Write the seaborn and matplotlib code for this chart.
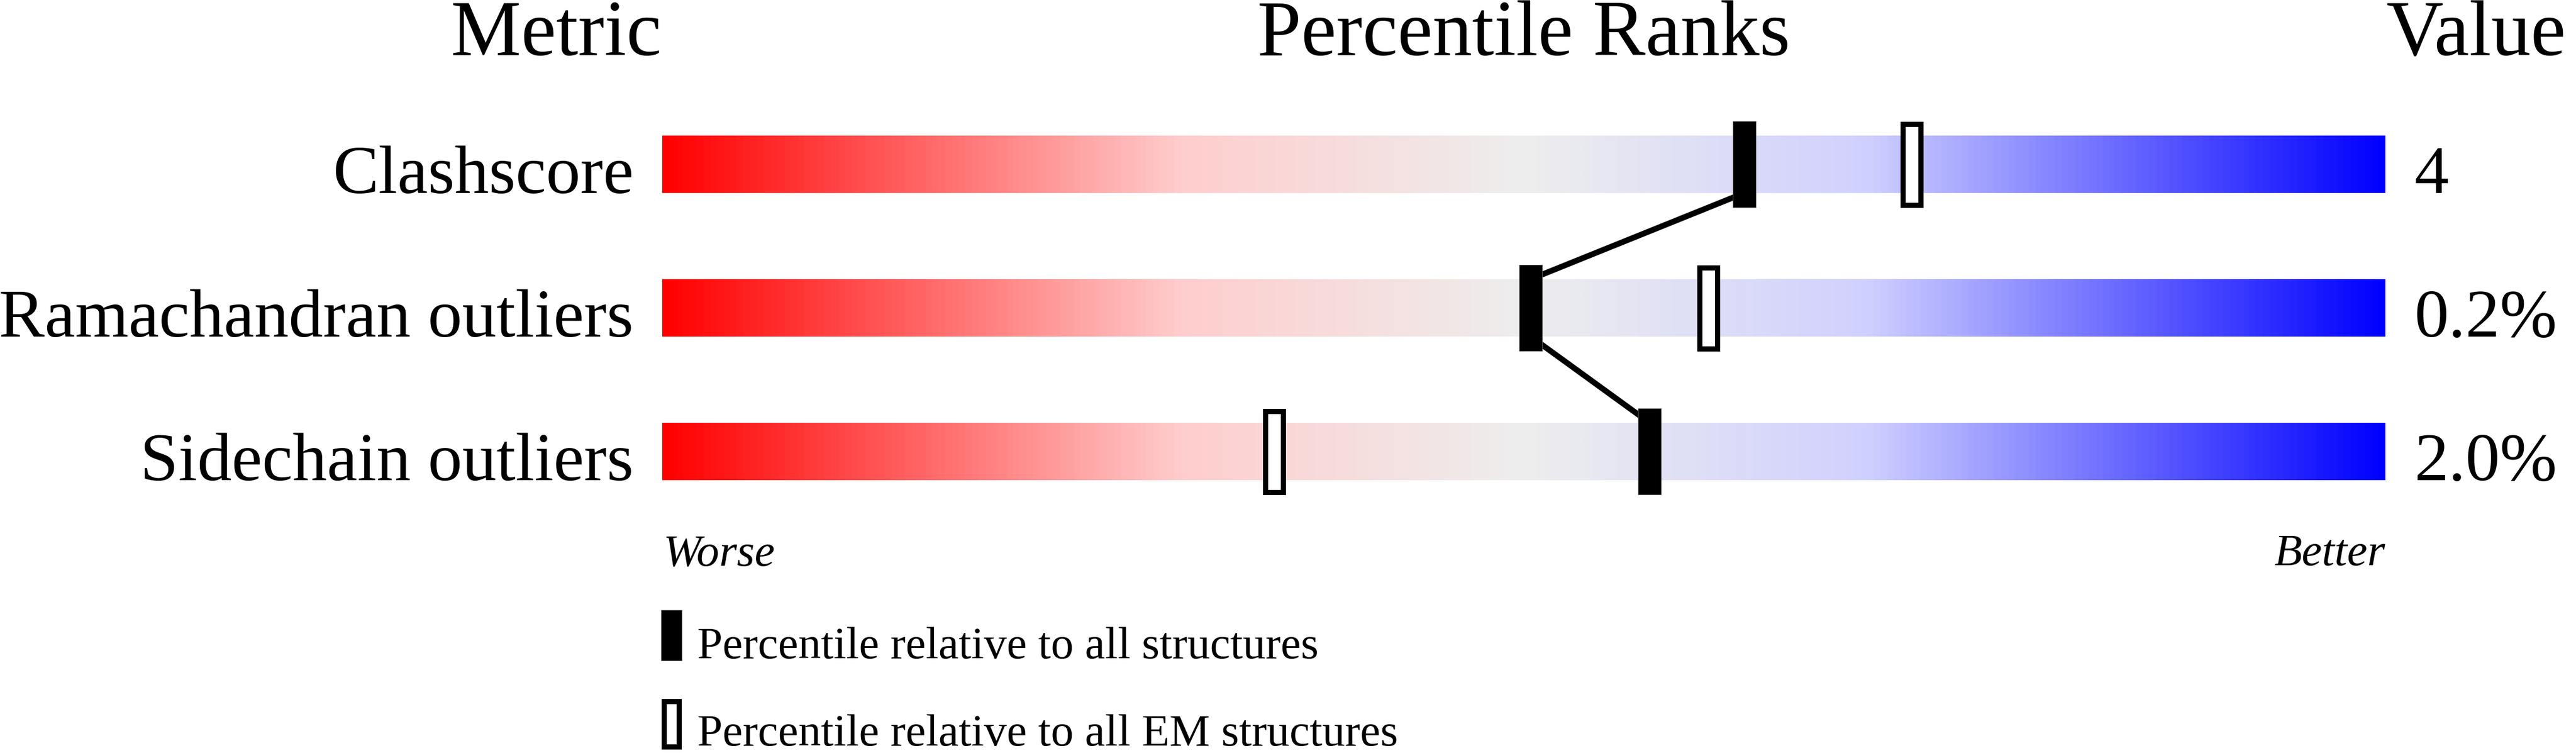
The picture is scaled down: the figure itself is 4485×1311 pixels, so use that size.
import numpy as np
import pandas as pd
import matplotlib
matplotlib.use("Agg")
import matplotlib.pyplot as plt
from matplotlib.colors import LinearSegmentedColormap
from matplotlib.patches import Rectangle
import seaborn as sns

# ---------------- data ----------------
metrics = ["Clashscore", "Ramachandran outliers", "Sidechain outliers"]
values = ["4", "0.2%", "2.0%"]
pct_all = [62.8, 50.4, 57.3]        # percentile relative to all structures
pct_em = [72.5, 60.7, 35.5]         # percentile relative to all EM structures
headers = ["Metric", "Percentile Ranks", "Value"]
scale_labels = ["Worse", "Better"]
legend_labels = ["Percentile relative to all structures",
                 "Percentile relative to all EM structures"]

# ---------------- style ----------------
sns.set_theme(style="white")
plt.rcParams["font.family"] = ["Liberation Serif", "DejaVu Serif"]
plt.rcParams["text.color"] = "black"

W, H, DPI = 4485, 1311, 100
fig = plt.figure(figsize=(W / DPI, H / DPI), dpi=DPI)
fig.patch.set_facecolor("white")

def fx(x):
    return x / W

def fy(y):
    return 1 - y / H

# main axes: x 0..100 maps to px 1153..4153, rows 250 px apart
bar_l, bar_r = 1153, 4153
row_top_px = 286 - 125
row_bot_px = 786 + 125
ax = fig.add_axes([fx(bar_l), fy(row_bot_px), (bar_r - bar_l) / W, (row_bot_px - row_top_px) / H])

cmap = LinearSegmentedColormap.from_list(
    "slider",
    [(0.0, (1.0, 0.0, 0.0)),
     (0.30, (1.0, 205 / 255, 205 / 255)),
     (0.50, (238 / 255, 238 / 255, 238 / 255)),
     (0.70, (208 / 255, 208 / 255, 1.0)),
     (1.0, (0.0, 0.0, 1.0))])
grad = cmap(np.linspace(0, 1, 1000))[None, :, :3]

bar_half = 0.2
rows = np.arange(len(metrics))
for r in rows:
    ax.imshow(grad, extent=[0, 100, r + bar_half, r - bar_half], aspect="auto",
              interpolation="bilinear", zorder=1)

# connecting line between "all structures" markers
seg_x, seg_y, seg_id = [], [], []
for i in range(len(metrics) - 1):
    seg_x += [pct_all[i], pct_all[i + 1]]
    seg_y += [rows[i] + bar_half, rows[i + 1] - bar_half]
    seg_id += [i, i]
lines_df = pd.DataFrame({"x": seg_x, "y": seg_y, "seg": seg_id})
sns.lineplot(data=lines_df, x="x", y="y", units="seg", estimator=None, sort=False,
             color="black", linewidth=7.2, ax=ax, legend=False, zorder=3)

# markers
mk_w = 40 / 30.0          # percentile units (30 px per unit)
mk_h = 150 / 250.0        # row units
border_px = 9
lw_pt = border_px * 72 / DPI
ax.bar(pct_all, mk_h, bottom=rows - mk_h / 2, width=mk_w, color="black",
       edgecolor="#666666", linewidth=0.6, zorder=4)
ow = mk_w - border_px / 30.0
oh = mk_h - border_px / 250.0
ax.bar(pct_em, oh, bottom=rows - oh / 2, width=ow, color="white",
       edgecolor="black", linewidth=lw_pt, zorder=4)

ax.set_xlim(0, 100)
ax.set_ylim(2.5, -0.5)
ax.axis("off")

# row labels and values
for r, name, val in zip(rows, metrics, values):
    ax.text(-50 / 3000, r + bar_half, name, transform=ax.get_yaxis_transform(),
            ha="right", va="baseline", fontsize=86, color="black")
    ax.text(1 + 51 / 3000, r + bar_half, val, transform=ax.get_yaxis_transform(),
            ha="left", va="baseline", fontsize=86, color="black")

# headers
hdr_fs = 99
fig.text(fx(1152), fy(96), headers[0], ha="right", va="baseline", fontsize=hdr_fs, color="black")
fig.text(fx((bar_l + bar_r) / 2), fy(96), headers[1], ha="center", va="baseline",
         fontsize=hdr_fs, color="black")
fig.text(fx(4155), fy(96), headers[2], ha="left", va="baseline", fontsize=hdr_fs, color="black")

# worse / better
fig.text(fx(1155), fy(984), scale_labels[0], ha="left", va="baseline", fontsize=57,
         style="italic", color="black")
fig.text(fx(4153), fy(984), scale_labels[1], ha="right", va="baseline", fontsize=57,
         style="italic", color="black")

# legend
leg_x, leg_w, leg_h = 1151, 36, 88
leg_tops = [1062, 1216]
leg_base = [1146, 1298]
fig.add_artist(Rectangle((fx(leg_x), fy(leg_tops[0] + leg_h)), leg_w / W, leg_h / H,
                         transform=fig.transFigure, facecolor="black", edgecolor="#666666",
                         linewidth=0.6))
b = border_px
fig.add_artist(Rectangle((fx(leg_x + b / 2), fy(leg_tops[1] + leg_h - b / 2)),
                         (leg_w - b) / W, (leg_h - b) / H,
                         transform=fig.transFigure, facecolor="white", edgecolor="black",
                         linewidth=lw_pt))
for lab, base in zip(legend_labels, leg_base):
    fig.text(fx(1214), fy(base), lab, ha="left", va="baseline", fontsize=57, color="black")

fig.savefig("out.png", dpi=DPI, facecolor="white")
